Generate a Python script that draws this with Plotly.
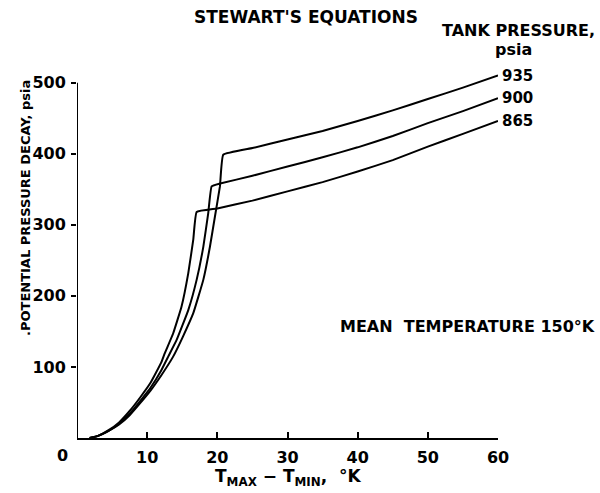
import plotly.graph_objects as go

# ---- data ----
pressures = ["935", "900", "865"]

x_935 = [1.8, 3, 4.5, 6, 7.5, 9, 10.5, 12, 13.7, 15.1, 16.57, 18, 18.95, 19.66, 20.37, 20.84,
         25, 30, 35, 40, 45, 50, 55, 60]
y_935 = [0, 3, 10, 19, 32, 49, 67, 88, 114.5, 142.7, 175.6, 222.5, 269.4, 311.7, 354, 398.6,
         408, 420, 432, 446, 461, 477, 493, 510]

x_900 = [1.8, 3, 4.5, 6, 7.5, 9, 10.5, 12, 13, 14.2, 15.86, 17.05, 18, 18.7, 19.19,
         20.4, 25, 30, 35, 40, 45, 50, 55, 60]
y_900 = [0, 3, 10, 20, 34, 52, 71, 95, 114.5, 138, 180, 222.5, 269, 316, 354,
         358, 369, 382, 395, 409, 425, 443, 460, 478]

x_865 = [1.8, 3, 4.5, 6, 7.5, 9, 10.5, 12, 12.5, 13.7, 14.9, 15.86, 16.57, 17.05,
         20, 25, 30, 35, 40, 45, 50, 55, 60]
y_865 = [0, 3, 11, 22, 38, 57, 78, 106, 119, 147, 185, 232, 279, 318,
         323, 334, 347, 360, 375, 391, 410, 428, 446]

series = [(pressures[0], x_935, y_935), (pressures[1], x_900, y_900), (pressures[2], x_865, y_865)]

x_ticks = [10, 20, 30, 40, 50, 60]
y_ticks = [100, 200, 300, 400, 500]
X_MAX, Y_MAX = 60, 500
Y_TOP = 515  # headroom so the 935 curve can run past the 500 tick

FONT = "DejaVu Sans"
W, H = 600, 493
L, R, T, B = 77, 102, 72, 55
pw, ph = W - L - R, H - T - B


def px(xp):
    return (xp - L) / pw


def py(yp):
    return (H - B - yp) / ph


def f(size):
    return dict(family=FONT, size=size, color="black", weight="bold")


fig = go.Figure()
for name, xs, ys in series:
    fig.add_trace(go.Scatter(x=xs, y=ys, mode="lines", name=name,
                             line=dict(color="black", width=2, shape="spline", smoothing=0.3),
                             showlegend=False, hoverinfo="skip"))

ann = []
# curve labels at line ends
for name, xs, ys in series:
    ann.append(dict(x=xs[-1], y=ys[-1], xref="x", yref="y", text=name,
                    showarrow=False, xanchor="left", yanchor="middle", xshift=2, font=f(15)))

ann += [
    dict(x=px(192), y=py(17), xref="paper", yref="paper", text="STEWART'S EQUATIONS",
         showarrow=False, xanchor="left", yanchor="middle", font=f(17)),
    dict(x=px(440), y=py(30), xref="paper", yref="paper", text="TANK PRESSURE,",
         showarrow=False, xanchor="left", yanchor="middle", font=f(16)),
    dict(x=px(493), y=py(50), xref="paper", yref="paper", text="psia",
         showarrow=False, xanchor="left", yanchor="middle", font=f(16)),
    dict(x=px(338), y=py(326), xref="paper", yref="paper", text="MEAN  TEMPERATURE 150°K",
         showarrow=False, xanchor="left", yanchor="middle", font=f(16)),
    dict(x=px(25), y=py(208), xref="paper", yref="paper", text=".POTENTIAL PRESSURE DECAY, psia",
         showarrow=False, xanchor="center", yanchor="middle", textangle=-90, font=f(13)),
    dict(x=px(213), y=py(478), xref="paper", yref="paper",
         text="T<sub>MAX</sub> − T<sub>MIN</sub>,  °K",
         showarrow=False, xanchor="left", yanchor="middle", font=f(17)),
    dict(x=px(62), y=py(455), xref="paper", yref="paper", text="0",
         showarrow=False, xanchor="center", yanchor="middle", font=f(16)),
]

fig.update_layout(
    width=W, height=H,
    margin=dict(l=L, r=R, t=T, b=B),
    paper_bgcolor="white", plot_bgcolor="white",
    annotations=ann,
    shapes=[dict(type="line", xref="x", yref="y", x0=0, x1=0, y0=0, y1=Y_MAX,
                 line=dict(color="black", width=2))],
    xaxis=dict(range=[0, X_MAX], tickvals=x_ticks, ticktext=[str(v) for v in x_ticks],
               ticks="inside", ticklen=6, tickwidth=2, tickcolor="black",
               showline=True, linecolor="black", linewidth=2, showgrid=False, zeroline=False,
               tickfont=f(16), ticklabelstandoff=4, fixedrange=True),
    yaxis=dict(range=[0, Y_TOP], tickvals=y_ticks, ticktext=[str(v) for v in y_ticks],
               ticks="outside", ticklen=5, tickwidth=2, tickcolor="black",
               showline=False, showgrid=False, zeroline=False,
               tickfont=f(16), ticklabelstandoff=2, fixedrange=True),
)

fig.write_html("out.html")
